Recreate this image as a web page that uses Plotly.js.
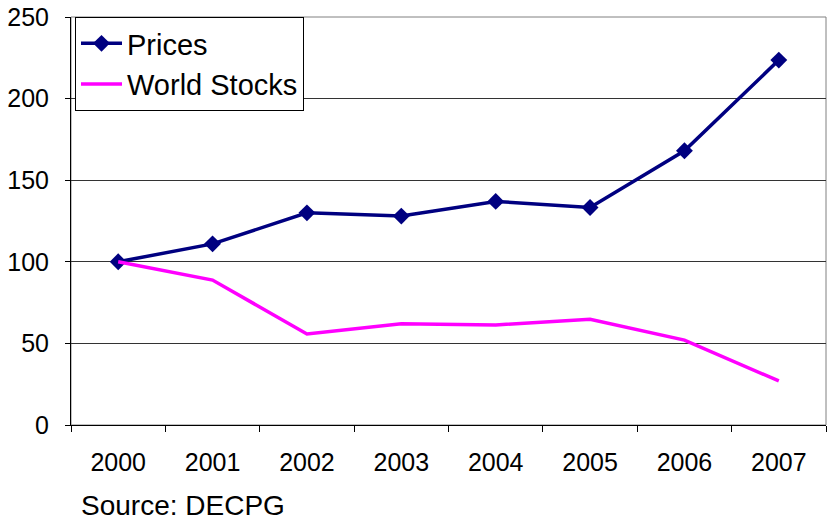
<!DOCTYPE html>
<html>
<head>
<meta charset="utf-8">
<script src="https://cdn.plot.ly/plotly-3.0.1.min.js"></script>
<style>html,body{margin:0;padding:0;background:#fff;}#chart{width:828px;height:522px;}</style>
</head>
<body>
<div id="chart"></div>
<script>
const years = ["2000", "2001", "2002", "2003", "2004", "2005", "2006", "2007"];
const prices = [100, 111, 130, 128, 137, 133.3, 168, 223.6];
const worldStocks = [100, 88.8, 55.8, 62, 61.3, 64.8, 52, 27];
const yTicks = [0, 50, 100, 150, 200, 250];
const sourceText = "Source: DECPG";

const font = "Arial, 'Liberation Sans', sans-serif";

const traces = [
  {
    x: years, y: prices, name: "Prices", type: "scatter", mode: "lines+markers",
    line: {color: "#000080", width: 3.5},
    marker: {symbol: "diamond", size: 13, color: "#000080"},
    legendgroup: "a"
  },
  {
    x: years, y: worldStocks, name: "World Stocks", type: "scatter", mode: "lines",
    line: {color: "#FF00FF", width: 3.5},
    legendgroup: "b"
  }
];

const layout = {
  width: 828, height: 522,
  margin: {l: 71, r: 2, t: 17, b: 97, pad: 0},
  paper_bgcolor: "#fff", plot_bgcolor: "#fff",
  font: {family: font, size: 25, color: "#000"},
  showlegend: true,
  legend: {
    x: 0.0053, y: 1, xanchor: "left", yanchor: "top",
    bgcolor: "#fff", bordercolor: "#000", borderwidth: 1,
    font: {family: font, size: 29, color: "#000"},
    traceorder: "grouped", tracegroupgap: 0, itemwidth: 41
  },
  xaxis: {
    type: "category", range: [-0.5, 7.5],
    showline: true, linecolor: "#000", linewidth: 1,
    ticks: "outside", ticklen: 6, tickcolor: "#000", tickson: "boundaries",
    showgrid: false, zeroline: false,
    ticklabelstandoff: 15,
    tickfont: {family: font, size: 25, color: "#000"}
  },
  yaxis: {
    range: [0, 250], tickvals: yTicks, ticktext: yTicks.map(String),
    showline: true, linecolor: "#000", linewidth: 1,
    ticks: "outside", ticklen: 5, tickcolor: "#000",
    showgrid: true, gridcolor: "#333", gridwidth: 1,
    zeroline: false,
    ticklabelstandoff: 11,
    tickfont: {family: font, size: 25, color: "#000"}
  },
  shapes: [
    {type: "rect", xref: "paper", yref: "paper", x0: 0, x1: 1, y0: 0, y1: 1,
     line: {color: "#808080", width: 1}, layer: "below"}
  ],
  annotations: [
    {text: sourceText, xref: "paper", yref: "paper", x: (80 - 71) / 755, y: -0.158,
     xanchor: "left", yanchor: "top", showarrow: false, borderpad: 0,
     font: {family: font, size: 28, color: "#000"}}
  ]
};

Plotly.newPlot("chart", traces, layout, {displayModeBar: false, staticPlot: true});
</script>
</body>
</html>
